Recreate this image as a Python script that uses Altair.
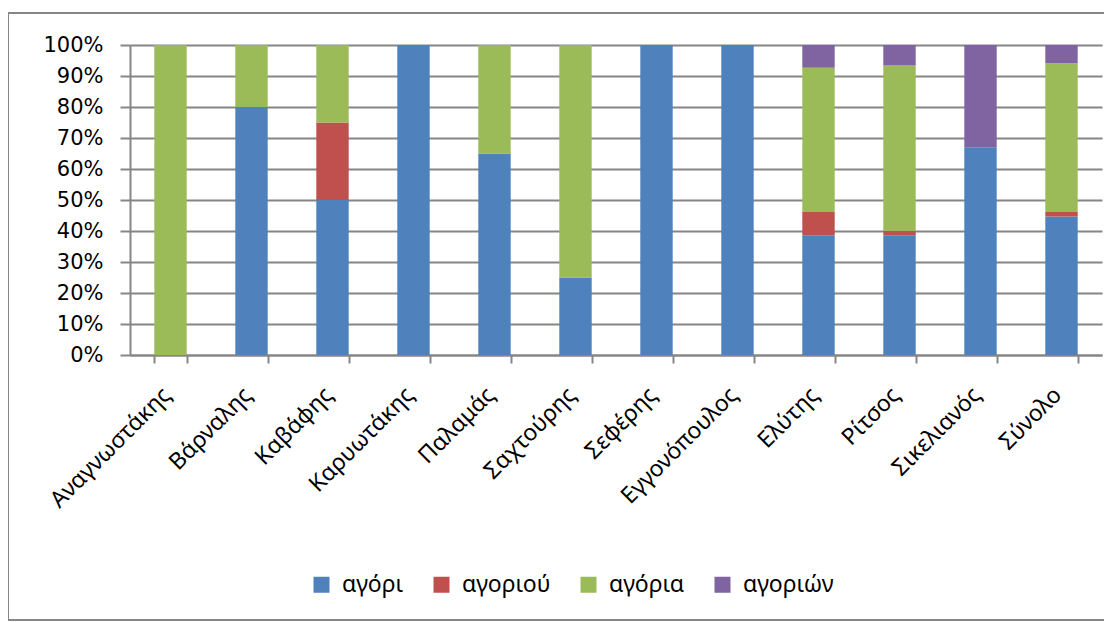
import altair as alt
import pandas as pd

categories = ["Αναγνωστάκης", "Βάρναλης", "Καβάφης", "Καρυωτάκης", "Παλαμάς", "Σαχτούρης",
              "Σεφέρης", "Εγγονόπουλος", "Ελύτης", "Ρίτσος", "Σικελιανός", "Σύνολο"]
series = ["αγόρι", "αγοριού", "αγόρια", "αγοριών"]
agori = [0, 80, 50, 100, 65, 25, 100, 100, 38.6, 38.6, 67, 44.7]
agoriou = [0, 0, 25, 0, 0, 0, 0, 0, 7.5, 1.4, 0, 1.4]
agoria = [100, 20, 25, 0, 35, 75, 0, 0, 46.6, 53.4, 0, 48]
agorion = [0, 0, 0, 0, 0, 0, 0, 0, 7.3, 6.6, 33, 5.9]
colors = ["#4F81BD", "#C0504D", "#9BBB59", "#8064A2"]

rows = []
for si, (name, vals) in enumerate(zip(series, [agori, agoriou, agoria, agorion])):
    for c, v in zip(categories, vals):
        rows.append({"cat": c, "series": name, "value": v, "order": si})
df = pd.DataFrame(rows)

NUMFONT = "DejaVu Sans"
TXTFONT = "Noto Sans"
W, H = 972, 310

bars = alt.Chart(df).mark_bar().encode(
    x=alt.X("cat:N", sort=categories, title=None,
            scale=alt.Scale(paddingInner=0.6, paddingOuter=0.3),
            axis=alt.Axis(labelAngle=315, labelAlign="right", labelBaseline="middle",
                          labelFontSize=23, labelFont=TXTFONT, labelColor="black",
                          labelOffset=-4,
                          tickBand="extent", tickSize=8, tickColor="#868686", tickWidth=2,
                          domainColor="#868686", domainWidth=2, labelPadding=28, grid=False)),
    y=alt.Y("value:Q", stack="normalize", title=None,
            scale=alt.Scale(domain=[0, 1]),
            axis=alt.Axis(format="%", values=[i / 10 for i in range(11)],
                          labelFontSize=21, labelFont=NUMFONT, labelColor="black",
                          tickSize=10, tickColor="#868686", tickWidth=2,
                          domainColor="#868686", domainWidth=2,
                          gridColor="#868686", gridWidth=2, labelPadding=17)),
    color=alt.Color("series:N", sort=series,
                    scale=alt.Scale(domain=series, range=colors),
                    legend=alt.Legend(title=None, orient="none", direction="horizontal",
                                      legendX=180, legendY=528, symbolType="square",
                                      symbolSize=256, symbolStrokeWidth=0,
                                      labelFontSize=23, labelFont=TXTFONT, labelColor="black",
                                      labelOffset=9, columnPadding=26, symbolOpacity=1)),
    order=alt.Order("order:Q", sort="ascending"),
)

frame = alt.Chart(pd.DataFrame({"a": [0]})).mark_rect(
    fill=None, stroke="#868686", strokeWidth=2
).encode(
    x=alt.value(-122), x2=alt.value(W + 8), y=alt.value(-32), y2=alt.value(575)
)

chart = alt.layer(frame, bars).properties(
    width=W, height=H,
    autosize=alt.AutoSizeParams(type="none"),
    padding={"left": 122, "top": 37, "right": 2, "bottom": 266},
).configure_view(stroke=None)

chart.save("out.html", embed_options={"renderer": "svg", "actions": False})
